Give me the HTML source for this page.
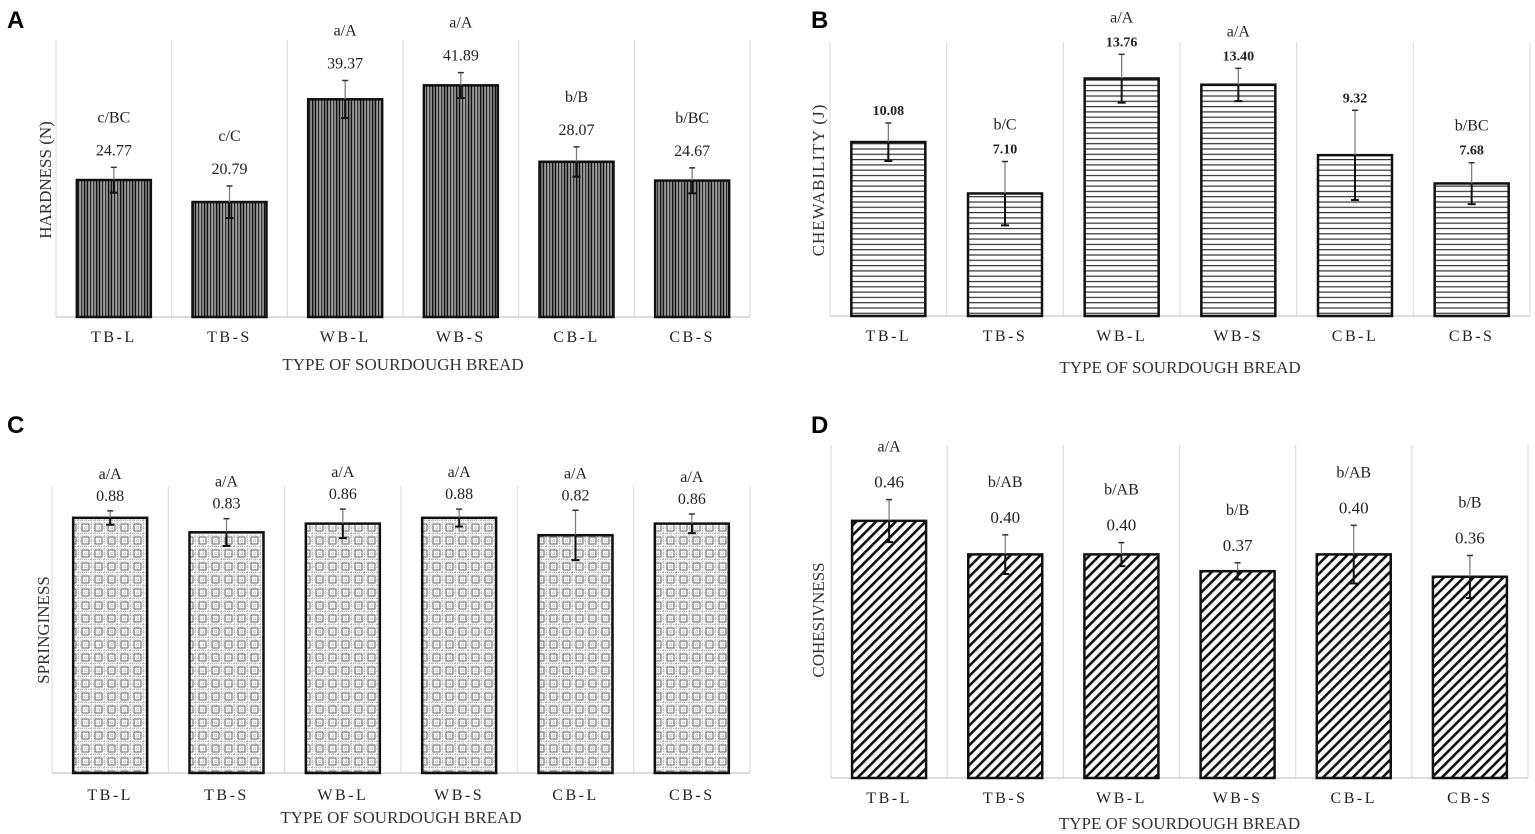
<!DOCTYPE html>
<html><head><meta charset="utf-8"><style>
body{margin:0;background:#fff;}
svg{display:block;font-family:"Liberation Serif",serif;}
.pl{font-family:"Liberation Sans",sans-serif;font-weight:bold;font-size:24px;}
</style></head><body>
<svg id="c" width="1535" height="834" viewBox="0 0 1535 834">
<defs>
<pattern id="pA" width="12" height="10" patternUnits="userSpaceOnUse">
<rect width="12" height="10" fill="#ddd"/>
<rect x="0" width="1.2" height="10" fill="#111"/><rect x="1.5" width="1.2" height="10" fill="#444"/><rect x="3" width="1.2" height="10" fill="#111"/><rect x="4.5" width="1.2" height="10" fill="#777"/><rect x="6" width="1.2" height="10" fill="#222"/><rect x="7.5" width="1.2" height="10" fill="#888"/><rect x="9" width="1.2" height="10" fill="#333"/><rect x="10.5" width="1.2" height="10" fill="#666"/>
</pattern>
<pattern id="pB" width="10" height="5.3" patternUnits="userSpaceOnUse">
<rect width="10" height="5.3" fill="#fff"/><rect y="0" width="10" height="1.2" fill="#333"/>
</pattern>
<pattern id="pC" width="13" height="13" patternUnits="userSpaceOnUse">
<rect width="13" height="13" fill="#f4f4f4"/>
<path d="M0 0.5H13M0 4H13M0 8H13M0.5 0V13M4 0V13M8 0V13" stroke="#aaa" stroke-width="0.7" stroke-dasharray="1 1"/>
<rect x="4" y="4" width="7" height="7" fill="none" stroke="#555" stroke-width="0.8"/>
</pattern>
<pattern id="pD" width="7" height="7" patternUnits="userSpaceOnUse" patternTransform="rotate(45)">
<rect width="7" height="7" fill="#fff"/><rect x="0" width="2.6" height="7" fill="#111"/>
</pattern>
</defs>
</svg>
<script>
const categories=["TB-L","TB-S","WB-L","WB-S","CB-L","CB-S"];
const hardness=[24.77,20.79,39.37,41.89,28.07,24.67];
const hardnessErr=[2.3,2.9,3.4,2.3,2.7,2.3];
const hardnessLetters=["c/BC","c/C","a/A","a/A","b/B","b/BC"];
const chew=[10.08,7.10,13.76,13.40,9.32,7.68];
const chewErr=[1.1,1.85,1.4,0.95,2.6,1.2];
const chewLetters=["","b/C","a/A","a/A","","b/BC"];
const spring=[0.88,0.83,0.86,0.88,0.82,0.86];
const springErr=[0.024,0.047,0.05,0.03,0.086,0.033];
const springLetters=["a/A","a/A","a/A","a/A","a/A","a/A"];
const cohes=[0.46,0.40,0.40,0.37,0.40,0.36];
const cohesErr=[0.038,0.035,0.021,0.015,0.052,0.038];
const cohesLetters=["a/A","b/AB","b/AB","b/B","b/AB","b/B"];

const NS="http://www.w3.org/2000/svg";
const svg=document.getElementById('c');
function mk(tag,attrs,parent,text){const e=document.createElementNS(NS,tag);for(const k in attrs)e.setAttribute(k,attrs[k]);if(text!==undefined)e.textContent=text;(parent||svg).appendChild(e);return e;}

function panel(o){
  const g=mk('g',{});
  
  
  const cw=(o.x1-o.x0)/o.vals.length;
  const xC=i=>o.x0+cw*(i+0.5);
  const yS=v=>o.base-v*o.scale;
  for(let i=0;i<=o.vals.length;i++){
    const l=mk('line',{x1:o.x0+cw*i,x2:o.x0+cw*i,y1:o.top,y2:o.base,stroke:'#d9d9d9','stroke-width':1},g);
    
    
  }
  const ax=mk('line',{x1:o.x0,x2:o.x1,y1:o.base,y2:o.base,stroke:'#d0d0d0','stroke-width':1.5},g);
  
  
  o.vals.forEach((v,i)=>{
    const bw=74,x=xC(i)-bw/2,y=yS(v);
    const r=mk('rect',{x:x,y:y,width:bw,height:o.base-y,fill:'url(#'+o.pat+')',stroke:'#111','stroke-width':2.5},g);
    
    
    const e=o.err[i],yt=yS(v+e),yb=yS(v-e),cx=xC(i);
    const eb=mk('g',{},g);
    
    
    mk('line',{x1:cx,x2:cx,y1:yt,y2:y,stroke:'#777','stroke-width':1.2},eb);
    mk('line',{x1:cx,x2:cx,y1:y,y2:yb,stroke:'#111','stroke-width':2},eb);
    mk('line',{x1:cx-3,x2:cx+3,y1:yt,y2:yt,stroke:'#333','stroke-width':1.5},eb);
    mk('line',{x1:cx-4,x2:cx+4,y1:yb,y2:yb,stroke:'#111','stroke-width':2},eb);
    const vt=mk('text',{x:cx,y:yt-o.vgap,'text-anchor':'middle','font-size':o.vfs,fill:'#222','font-weight':o.vbold?'bold':'normal'},g,o.fmt(v));
    
    
    if(o.letters[i]){
      const lt=mk('text',{x:cx,y:yt-o.vgap-o.lgap,'text-anchor':'middle','font-size':16,fill:'#222'},g,o.letters[i]);
      
      
    }
    const ct=mk('text',{x:cx,y:o.base+o.catOff,'text-anchor':'middle','font-size':16,'letter-spacing':'2.5px',fill:'#222'},g,categories[i]);
    
    
  });
  const xt=mk('text',{x:(o.x0+o.x1)/2,y:o.titleY,'text-anchor':'middle','font-size':17,fill:'#333'},g,'TYPE OF SOURDOUGH BREAD');
  
  
  const yt=mk('text',{x:0,y:0,transform:'translate('+o.ytx+','+o.yty+') rotate(-90)','text-anchor':'middle','font-size':17,fill:'#333','letter-spacing':o.yls||'0px'},g,o.ytitle);
  
  
  const pl=mk('text',{x:o.lx,y:o.ly,class:'pl'},g,o.label);
  
  
}
const f2=v=>v.toFixed(2);
panel({name:'hardness',vals:hardness,err:hardnessErr,letters:hardnessLetters,x0:56,x1:750,top:40,base:317,scale:5.53,pat:'pA',vgap:12,lgap:33,vfs:16,fmt:f2,catOff:25,titleY:370,ytx:51,yty:180,ytitle:'HARDNESS (N)',lx:7,ly:28,label:'A'});
panel({name:'chewability',vals:chew,err:chewErr,letters:chewLetters,x0:830,x1:1530,top:42,base:316,scale:17.26,pat:'pB',vgap:8,lgap:24,vfs:14,vbold:true,fmt:f2,catOff:25,titleY:373,ytx:824,yty:180,ytitle:'CHEWABILITY  (J)',yls:'1px',lx:811,ly:28,label:'B'});
panel({name:'springiness',vals:spring,err:springErr,letters:springLetters,x0:52,x1:750,top:486,base:773,scale:290,pat:'pC',vgap:10,lgap:22,vfs:16,fmt:f2,catOff:27,titleY:823,ytx:49,yty:630,ytitle:'SPRINGINESS',lx:7,ly:433,label:'C'});
panel({name:'cohesiveness',vals:cohes,err:cohesErr,letters:cohesLetters,x0:831,x1:1528,top:445,base:778,scale:559,pat:'pD',vgap:12,lgap:36,vfs:17,fmt:f2,catOff:25,titleY:829,ytx:824,yty:620,ytitle:'COHESIVNESS',lx:811,ly:433,label:'D'});
</script>
</body></html>
